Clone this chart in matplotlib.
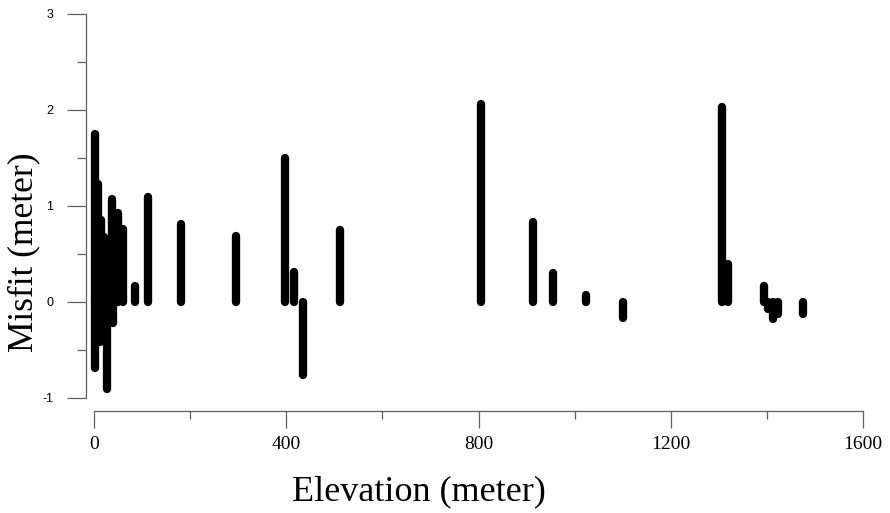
import numpy as np
import matplotlib.pyplot as plt
from matplotlib.ticker import MultipleLocator

plt.rcParams['axes.unicode_minus'] = False

# elevation (m) and misfit (m)
elevation = [2, 3, 9, 15, 21, 28, 13, 40, 37, 50, 60, 85, 112, 180, 296,
             398, 417, 434, 512, 805, 914, 955, 1023, 1100, 1306, 1320,
             1394, 1402, 1412, 1424, 1476]
misfit = [1.75, -0.69, 1.23, 0.85, 0.68, -0.91, -0.42, -0.22, 1.07, 0.93,
          0.76, 0.17, 1.09, 0.81, 0.69, 1.50, 0.31, -0.76, 0.75, 2.06,
          0.83, 0.30, 0.07, -0.17, 2.03, 0.40, 0.17, -0.07, -0.18, -0.12,
          -0.13]

fig = plt.figure(figsize=(8.9, 5.13), dpi=100)
ax = fig.add_axes([94/890, 1-398/513, 769/890, 384/513])

lc = ax.vlines(elevation, 0, misfit, colors='black', linewidth=6,
               capstyle='round')
lc.set_clip_on(False)

ax.set_xlim(0, 1600)
ax.set_ylim(-1, 3)

spc = '#606060'
for s in ['top', 'right']:
    ax.spines[s].set_visible(False)
ax.spines['left'].set_position(('outward', 5.8))
ax.spines['bottom'].set_position(('outward', 9.4))
for s in ['left', 'bottom']:
    ax.spines[s].set_color(spc)
    ax.spines[s].set_linewidth(0.9)

ax.xaxis.set_major_locator(MultipleLocator(400))
ax.xaxis.set_minor_locator(MultipleLocator(200))
ax.yaxis.set_major_locator(MultipleLocator(1))
ax.yaxis.set_minor_locator(MultipleLocator(0.5))

ax.tick_params(axis='x', which='major', length=12, width=0.9, color=spc,
               pad=6, labelsize=14)
ax.tick_params(axis='x', which='minor', length=6, width=0.9, color=spc)
ax.tick_params(axis='y', which='major', length=13.7, width=0.9, color=spc,
               pad=10, labelsize=9)
ax.tick_params(axis='y', which='minor', length=6.5, width=0.9, color=spc)

for lab in ax.get_xticklabels():
    lab.set_fontfamily('Liberation Serif')
for lab in ax.get_yticklabels():
    lab.set_fontfamily('Liberation Sans')

fig.text(419/890, 1-492/513, 'Elevation (meter)', fontsize=26,
         fontfamily='Liberation Serif', ha='center', va='center')
fig.text(24/890, 1-252/513, 'Misfit (meter)', fontsize=25.5,
         fontfamily='Liberation Serif', ha='center', va='center',
         rotation=90)

fig.savefig('out.png', dpi=100)
